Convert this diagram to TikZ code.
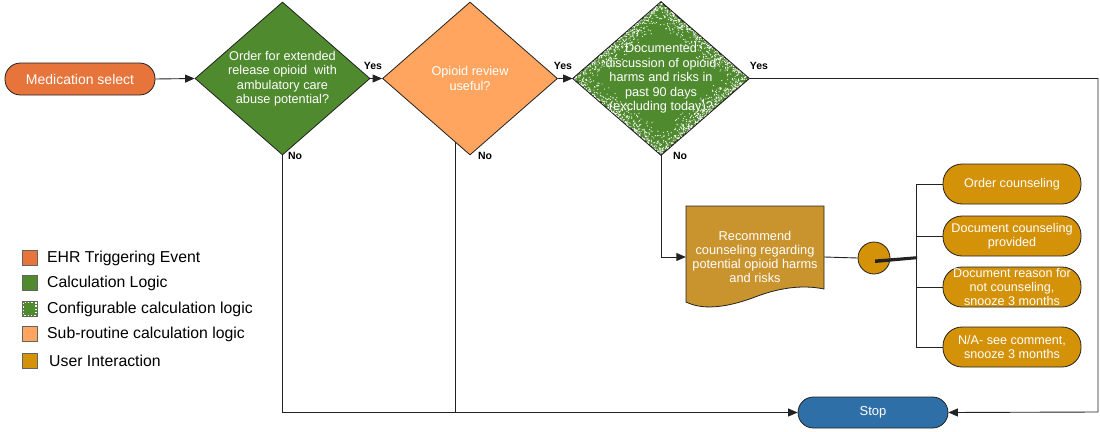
\documentclass[tikz,border=0pt]{standalone}
\usepackage{fontspec}
\setmainfont{Liberation Sans}
\usetikzlibrary{shapes.geometric,arrows.meta,calc}
\definecolor{trig}{HTML}{E6743B}
\definecolor{cgreen}{HTML}{4F8A2E}
\definecolor{subc}{HTML}{FFA55F}
\definecolor{uic}{HTML}{D49209}
\definecolor{docc}{HTML}{C9932D}
\definecolor{stopc}{HTML}{2F6FA8}
\definecolor{edge}{HTML}{222222}
\begin{document}
\begin{tikzpicture}[x=1pt,y=-1pt,
  conn/.style={draw=edge,line width=0.9},
  arr/.style={conn,-{Triangle[length=9.5pt,width=8pt]}},
  term/.style={rectangle,rounded corners=15.5pt,draw=edge,line width=0.8,text=white,inner sep=0},
  opt/.style={rectangle,rounded corners=19pt,draw=edge,line width=0.8,fill=uic,text=white,minimum width=138,minimum height=40,inner sep=0,align=center,font=\fontsize{12.6}{14}\selectfont},
  dia/.style={diamond,draw=edge,line width=0.8,minimum width=175,minimum height=153,inner sep=0},
  dtext/.style={text=white,align=center,inner sep=0,font=\fontsize{12.7}{14.5}\selectfont},
  lab/.style={inner sep=0,font=\bfseries\fontsize{10.5}{12}\selectfont},
  legbox/.style={rectangle,draw=edge!70,line width=0.6,minimum size=15,inner sep=0},
  legtext/.style={anchor=west,inner sep=0,font=\fontsize{15.8}{17}\selectfont},
]
\useasboundingbox (0,0) rectangle (1100,431);

% terminals
\node[term,fill=trig,minimum width=150,minimum height=32,font=\fontsize{14}{16}\selectfont] (ms) at (80,79) {Medication select};
\node[term,fill=stopc,minimum width=150,minimum height=31,font=\fontsize{13}{15}\selectfont] (stop) at (873,412.5) {Stop};

% diamonds
\node[dia,fill=cgreen] (d1) at (282.5,78.5) {};
\node[dia,fill=subc] (d2) at (470,78.5) {};
\node[dia,fill=cgreen,minimum width=176] (d3) at (661,78.5) {};
\begin{scope}
  \clip (d3.north) -- (d3.east) -- (d3.south) -- (d3.west) -- cycle;
  \pgfmathsetseed{7}
  \foreach \a/\b in {north/east,east/south,south/west,west/north}{
    \foreach \i in {1,...,430}{
      \pgfmathsetmacro\ra{rnd}
      \pgfmathsetmacro\rb{1-0.34*rnd*rnd}
      \coordinate (tmp) at ($(d3.\a)!\ra!(d3.\b)$);
      \fill[white] ($(d3.center)!\rb!(tmp)$) circle[radius=0.6];
    }
  }
\end{scope}
\draw[edge,line width=0.8] (d3.north) -- (d3.east) -- (d3.south) -- (d3.west) -- cycle;

\node[dtext] (t1) at (d1.center) {Order for extended\\release opioid\ \ with\\ambulatory care\\abuse potential?};
\node[dtext] (t2) at (d2.center) {Opioid review\\useful?};
\node[dtext] (t3) at (d3.center) {Documented\\discussion of opioid\\harms and risks in\\past 90 days\\(excluding today)?};

% document shape
\filldraw[fill=docc,draw=edge,line width=0.8] (686,206) -- (824,206) -- (824,289)
  .. controls (800,284) and (776,289) .. (755,297)
  .. controls (734,305) and (706,312) .. (686,302) -- cycle;
\node[rectangle,minimum width=138,minimum height=102,inner sep=0,text=white,align=center,font=\fontsize{12.8}{14}\selectfont] (doc) at (755,257) {Recommend\\counseling regarding\\potential opioid harms\\and risks};

% circle
\node[circle,draw=edge,line width=0.8,fill=uic,minimum size=32,inner sep=0] (circ) at (874,258) {};

% options
\node[opt] (o1) at (1012,184) {Order counseling};
\node[opt] (o2) at (1012,236) {Document counseling\\provided};
\node[opt] (o3) at (1012,287) {Document reason for\\not counseling,\\snooze 3 months};
\node[opt] (o4) at (1012,347) {N/A- see comment,\\snooze 3 months};

% connectors
\draw[arr] (ms.east) -- (d1.west);
\draw[arr] (d1.east) -- (d2.west);
\draw[arr] (d2.east) -- (d3.west);
\coordinate (rc) at (1098,412);
\draw[arr] (d3.east) -| (rc) -- (stop.east);
\draw[arr] (d1.south) |- (stop.west);
\coordinate (n2) at ($(d2.west)!0.83!(d2.south)$);
\draw[conn] (n2) -- (n2 |- stop.west);
\draw[arr] (d3.south) |- (doc.west);
\draw[conn] (doc.east) -- (circ.west);
\coordinate (bx) at (916,258);
\fill[edge] ($(circ.center)+(1,1.5)$) -- ($(bx)+(1,-1.8)$) -- ($(bx)+(1,1.2)$) -- ($(circ.center)+(1,5)$) -- cycle;
\draw[conn] (o1.west) -| (bx) |- (o4.west);
\draw[conn] (o2.west) -- (o2.west -| bx);
\draw[conn] (o3.west) -- (o3.west -| bx);

% labels
\node[lab] (y1) at (373,66) {Yes};
\node[lab] (y2) at (563,66) {Yes};
\node[lab] (y3) at (759,66) {Yes};
\node[lab] (no1) at (295,156) {No};
\node[lab] (no2) at (485,156) {No};
\node[lab] (no3) at (680,156) {No};

% legend
\node[legbox,fill=trig] (l1) at (29.5,258) {};
\node[legbox,fill=cgreen] (l2) at (29.5,283) {};
\node[legbox,fill=cgreen] (l3) at (29.5,309) {};
\draw[white,line width=1.4,dotted] ($(l3.north west)+(1.5,1.5)$) rectangle ($(l3.south east)+(-1.5,-1.5)$);
\node[legbox,fill=subc] (l4) at (29.5,334) {};
\node[legbox,fill=uic] (l5) at (29.5,361) {};
\node[legtext] (lt1) at (47,258) {EHR Triggering Event};
\node[legtext] (lt2) at (47,283) {Calculation Logic};
\node[legtext] (lt3) at (47,309) {Configurable calculation logic};
\node[legtext] (lt4) at (47,334) {Sub-routine calculation logic};
\node[legtext] (lt5) at (49,361) {User Interaction};
\end{tikzpicture}
\end{document}
